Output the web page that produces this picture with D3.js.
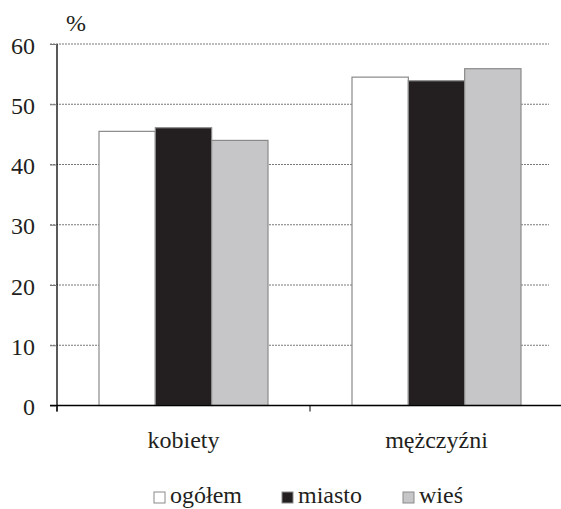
<!DOCTYPE html>
<html><head><meta charset="utf-8">
<script src="https://cdn.jsdelivr.net/npm/d3@7"></script>
</head><body style="margin:0;background:#fff"><svg id="c" width="561" height="509" font-family="Liberation Serif"></svg>
<script>
const categories = ["kobiety", "mężczyźni"];
const seriesNames = ["ogółem", "miasto", "wieś"];
const ogolem = [45.5, 54.5];
const miasto = [46.1, 53.9];
const wies = [44.0, 55.9];
const yTicks = [0, 10, 20, 30, 40, 50, 60];
const colors = ["#ffffff", "#231f20", "#c6c6c8"];

const FONT = "Liberation Serif";
const FS = 24;
const values = [ogolem, miasto, wies];
const svg = d3.select("#c");
const x = d3.scaleBand().domain(categories).range([57, 563]).paddingInner(0).paddingOuter(0);
const y = d3.scaleLinear().domain([0, 60]).range([405.5, 44]);
const inner = d3.scaleBand().domain(seriesNames).range([42, x.bandwidth() - 42]).padding(0);

// gridlines
svg.append("g").selectAll("line").data(yTicks.filter(d => d > 0)).join("line")
  .attr("x1", 50).attr("x2", 549).attr("y1", d => y(d)).attr("y2", d => y(d))
  .attr("stroke", "#555").attr("stroke-width", 0.8).attr("stroke-dasharray", "2,1");

// bars
categories.forEach((c, ci) => {
  seriesNames.forEach((s, si) => {
    svg.append("rect")
      .attr("x", x(c) + inner(s)).attr("width", inner.bandwidth())
      .attr("y", y(values[si][ci])).attr("height", y(0) - y(values[si][ci]))
      .attr("fill", colors[si]).attr("stroke", "#8a8a8a").attr("stroke-width", 1.2);
  });
});

// y axis
const yAxis = d3.axisLeft(y).tickValues(yTicks).tickSize(7).tickPadding(15).tickFormat(d3.format("d"));
const ga = svg.append("g").attr("transform", "translate(57,0)").call(yAxis).attr("font-family", FONT).attr("font-size", FS);
ga.select(".domain").attr("d", `M0,${y(60)}V${y(0)+6}`).attr("stroke", "#000").attr("stroke-width", 1.3);
ga.selectAll(".tick line").attr("stroke", "#777");
ga.selectAll(".tick text").attr("font-family", FONT).attr("font-size", FS).attr("fill", "#231f20").attr("dy", "0.38em");

// x axis
const xAxis = d3.axisBottom(x).tickSize(0).tickPadding(0);
const gx = svg.append("g").attr("transform", `translate(0,${y(0)})`).call(xAxis).attr("font-family", FONT).attr("font-size", FS);
gx.select(".domain").attr("d", "M50,0H561").attr("stroke", "#000").attr("stroke-width", 1.3);
gx.selectAll(".tick text").attr("font-family", FONT).attr("font-size", FS).attr("fill", "#231f20").attr("y", 42.5).attr("dy", 0);
// tick separators
svg.append("g").selectAll("line").data([57, x(categories[1])]).join("line")
  .attr("x1", d => d).attr("x2", d => d).attr("y1", y(0)).attr("y2", y(0) + 6)
  .attr("stroke", "#000").attr("stroke-width", 1);

// % label
svg.append("text").attr("x", 66).attr("y", 31).attr("font-family", FONT).attr("font-size", FS).attr("fill", "#231f20").text("%");

// legend
const legX = [154, 282, 403];
seriesNames.forEach((s, i) => {
  svg.append("rect").attr("x", legX[i]).attr("y", 492).attr("width", 11).attr("height", 11)
    .attr("fill", colors[i]).attr("stroke", "#8a8a8a").attr("stroke-width", 1);
  svg.append("text").attr("x", legX[i] + 16).attr("y", 503).attr("font-family", FONT).attr("font-size", FS).attr("fill", "#231f20").text(s);
});
</script></body></html>
